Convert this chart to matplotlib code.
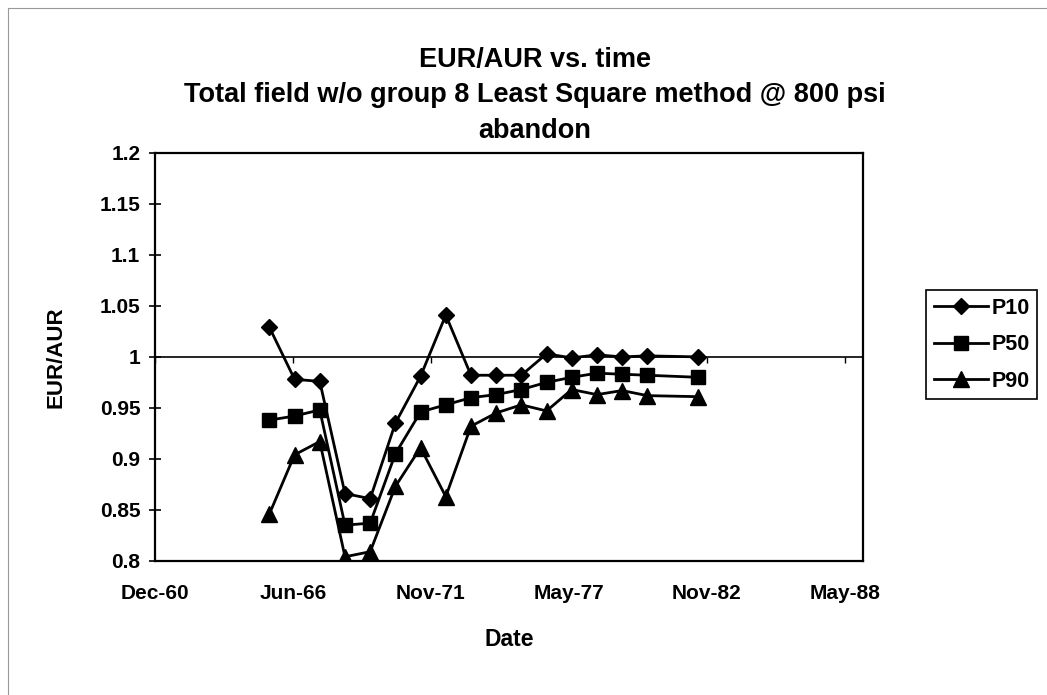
import matplotlib
matplotlib.use("Agg")
import matplotlib.pyplot as plt
import matplotlib.dates as mdates
import matplotlib.ticker as mticker
from datetime import datetime, timedelta

plt.rcParams['font.family'] = ['Liberation Sans', 'DejaVu Sans']
plt.rcParams['font.weight'] = 'bold'

# yearly points (mid-year), 1981 missing
years = [1965, 1966, 1967, 1968, 1969, 1970, 1971, 1972, 1973, 1974,
         1975, 1976, 1977, 1978, 1979, 1980, 1982]
p10 = [1.029, 0.978, 0.976, 0.866, 0.861, 0.935, 0.981, 1.041, 0.982, 0.982,
       0.982, 1.003, 0.999, 1.002, 1.000, 1.001, 1.000]
p50 = [0.938, 0.942, 0.948, 0.835, 0.837, 0.905, 0.946, 0.953, 0.960, 0.963,
       0.968, 0.975, 0.980, 0.984, 0.983, 0.982, 0.980]
p90 = [0.846, 0.904, 0.917, 0.804, 0.809, 0.873, 0.911, 0.863, 0.932, 0.945,
       0.953, 0.947, 0.968, 0.963, 0.967, 0.962, 0.961]

dates = [datetime(y, 7, 1) for y in years]

# Excel-style date axis: start Dec-60, major unit 2000 days
x_start = datetime(1960, 12, 15)
major_days = 2000
x_end = x_start + timedelta(days=10260)
tick_dates = [x_start + timedelta(days=major_days * k) for k in range(6)]

fig = plt.figure(figsize=(10.47, 6.95), dpi=100)
ax = fig.add_axes([0.148, 0.193, 0.676, 0.587])

ax.plot(dates, p10, color='black', lw=2, marker='D', ms=8.5, label='P10')
ax.plot(dates, p50, color='black', lw=2, marker='s', ms=10.5, label='P50')
ax.plot(dates, p90, color='black', lw=2, marker='^', ms=11.5, label='P90')

ax.set_xlim(x_start, x_end)
ax.set_ylim(0.8, 1.2)
ax.set_xticks(tick_dates)
ax.xaxis.set_major_formatter(mdates.DateFormatter('%b-%y'))
ax.set_yticks([0.8 + 0.05 * i for i in range(9)])
ax.yaxis.set_major_formatter(mticker.FuncFormatter(lambda v, p: f'{v:g}'))
ax.tick_params(axis='x', length=0, pad=17, labelsize=15)
ax.tick_params(axis='y', direction='inout', length=9, width=1.2, pad=6, labelsize=15)
for s in ax.spines.values():
    s.set_linewidth(1.6)

# horizontal axis line crossing at 1
sec = ax.secondary_xaxis(0.5)
sec.set_xticks(tick_dates)
sec.set_xticklabels([])
sec.tick_params(direction='in', length=4, width=1)
sec.spines['top'].set_linewidth(1.2)
sec.spines['bottom'].set_linewidth(1.2)

ax.set_xlabel('Date', fontsize=16.5, fontweight='bold', labelpad=18)
ax.set_ylabel('EUR/AUR', fontsize=16, fontweight='bold', labelpad=24)

fig.text(0.511, 0.913, 'EUR/AUR vs. time', ha='center', va='center', fontsize=19.5, fontweight='bold')
fig.text(0.511, 0.863, 'Total field w/o group 8 Least Square method @ 800 psi', ha='center', va='center',
         fontsize=19.5, fontweight='bold')
fig.text(0.511, 0.811, 'abandon', ha='center', va='center', fontsize=19.5, fontweight='bold')

leg = fig.legend(loc='upper left', bbox_to_anchor=(926 / 1047, 1 - 290 / 695), fontsize=15.5,
                 handlelength=2.55, labelspacing=0.72, borderpad=0.35, handletextpad=0.15,
                 fancybox=False, framealpha=1, borderaxespad=0)
leg.get_frame().set_edgecolor('black')
leg.get_frame().set_linewidth(1.2)

# faint outer chart border (top and left edges visible in the scan)
fig.add_artist(plt.Line2D([8 / 1047, 1], [1 - 8 / 695, 1 - 8 / 695], transform=fig.transFigure,
                          color='#999999', lw=0.8))
fig.add_artist(plt.Line2D([8 / 1047, 8 / 1047], [0, 1 - 8 / 695], transform=fig.transFigure,
                          color='#999999', lw=0.8))

fig.savefig('out.png', dpi=100)
